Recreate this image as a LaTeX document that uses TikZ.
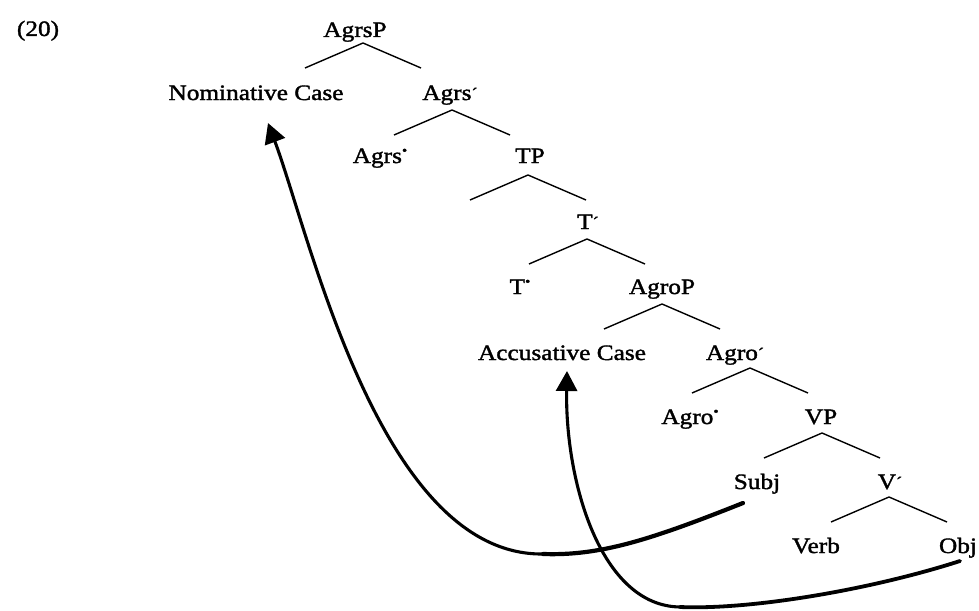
\documentclass[tikz,border=0pt]{standalone}
\usepackage{fontspec}
\setmainfont{Liberation Serif}[FakeStretch=1.15,FakeBold=1.6]
\usetikzlibrary{arrows.meta}
\newcommand{\barm}{\raisebox{0.05em}{\fontsize{16}{16}\selectfont ´}}
\newcommand{\headm}{\raisebox{0.38em}{\fontsize{13}{13}\selectfont •}}
\begin{document}
\begin{tikzpicture}[x=1pt,y=-1pt,
  lab/.style={anchor=base,inner sep=0pt,font=\fontsize{22}{24}\selectfont},
  branch/.style={line width=1.4pt},
  movethick/.style={line width=4.2pt,line cap=round},
  movearrow/.style={line width=3.1pt,-{Triangle[length=20pt,width=21pt]}}]
\useasboundingbox (0,0) rectangle (979,610);
% labels
\node[lab] (ex) at (38,36) {(20)};
\node[lab] (agrsp) at (355,37) {AgrsP};
\node[lab] (nom) at (256,100) {Nominative Case};
\node[lab] (agrsb) at (450,100) {Agrs\barm};
\node[lab] (agrsh) at (380,163) {Agrs\headm};
\node[lab] (tp) at (530,163) {TP};
\node[lab] (tb) at (588,229) {T\barm};
\node[lab] (th) at (520,294) {T\headm};
\node[lab] (agrop) at (662,294) {AgroP};
\node[lab] (acc) at (562,360) {Accusative Case};
\node[lab] (agrob) at (735,360) {Agro\barm};
\node[lab] (agroh) at (690,424) {Agro\headm};
\node[lab] (vp) at (821,424) {VP};
\node[lab] (subj) at (757,489) {Subj};
\node[lab] (vb) at (890,489) {V\barm};
\node[lab] (verb) at (816,553) {Verb};
\node[lab] (obj) at (958,553) {Obj};
% branch apexes
\coordinate (aAgrsP) at (363,43);
\coordinate (aAgrsb) at (452,110);
\coordinate (aTP) at (528,175);
\coordinate (aTb) at (587,239);
\coordinate (aAgroP) at (662,304);
\coordinate (aAgrob) at (750,368);
\coordinate (aVP) at (822,433);
\coordinate (aVb) at (889,497);
\foreach \a in {aAgrsP,aAgrsb,aTP,aTb,aAgroP,aAgrob,aVP,aVb}{
  \draw[branch] (\a) -- ++(-58,25);
  \draw[branch] (\a) -- ++(58,25);
}
% movement arrows
\coordinate (s0) at ([shift={(-14,14)}]subj.base);
\coordinate (b1) at (543,554);
\coordinate (n1) at ([shift={(12,23)}]nom.base);
\draw[movethick] (s0) .. controls (650,540) and (600,556) .. (b1);
\draw[movearrow] (b1) .. controls (380,556) and (310,235) .. (n1);
\coordinate (o0) at ([shift={(2,8)}]obj.base);
\coordinate (b2) at (680,607);
\coordinate (a1) at ([shift={(5,11)}]acc.base);
\draw[movethick,line width=3.8pt] (o0) .. controls (870,590) and (750,610) .. (b2);
\draw[movearrow] (b2) .. controls (600,606) and (565,480) .. (a1);
\end{tikzpicture}
\end{document}
